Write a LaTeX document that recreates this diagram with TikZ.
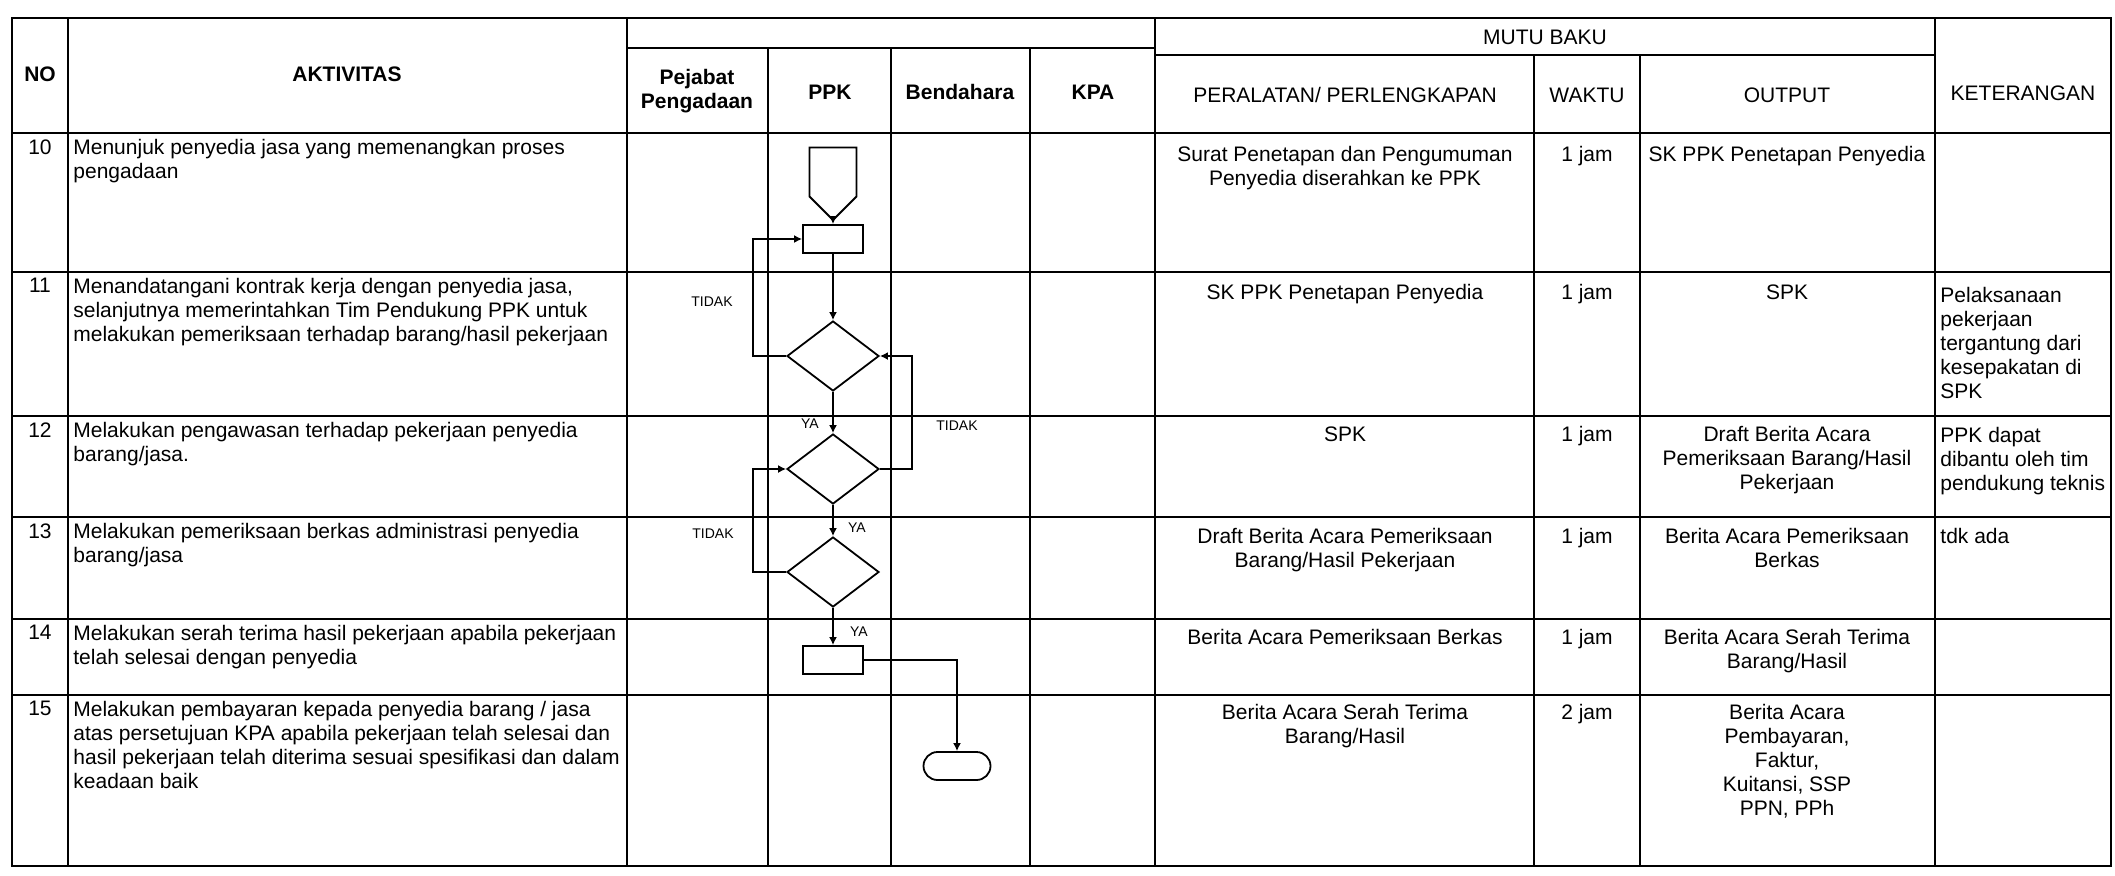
\documentclass[tikz,border=0pt]{standalone}
\usepackage{fontspec}
\setmainfont{Liberation Sans}
\usetikzlibrary{arrows.meta,positioning,shapes.geometric,shapes.symbols,shapes.misc}

\begin{document}
\begin{tikzpicture}[
  x=0.5pt,y=-0.5pt,
  every node/.style={font=\fontsize{10.5}{12}\selectfont,inner sep=0pt},
  grid/.style={line width=0.7pt},
  head/.style={align=center,font=\fontsize{10.5}{12}\selectfont\bfseries},
  headr/.style={align=center},
  txt/.style={anchor=north west,align=left},
  mid/.style={anchor=north,align=center},
  num/.style={anchor=north},
  lbl/.style={font=\fontsize{7}{8}\selectfont},
  proc/.style={draw,line width=0.9pt,minimum width=30pt,minimum height=14pt},
  dec/.style={draw,diamond,line width=0.9pt,minimum width=46pt,minimum height=35pt},
  offp/.style={draw,signal,signal to=south,signal from=nowhere,line width=0.9pt,minimum width=23.5pt,minimum height=24.5pt},
  term/.style={draw,rounded rectangle,line width=0.9pt,minimum width=33.5pt,minimum height=14pt},
  flow/.style={line width=0.8pt,-{Latex[length=4pt,width=4pt]}}
]
\useasboundingbox (0,0) rectangle (2115,875);

\draw[grid] (12,18) rectangle (2111,866);
\draw[grid] (12,133) -- (2111,133);
\draw[grid] (12,272) -- (2111,272);
\draw[grid] (12,416) -- (2111,416);
\draw[grid] (12,517) -- (2111,517);
\draw[grid] (12,619) -- (2111,619);
\draw[grid] (12,695) -- (2111,695);
\draw[grid] (68,18) -- (68,866);
\draw[grid] (627,18) -- (627,866);
\draw[grid] (1155,18) -- (1155,866);
\draw[grid] (1935,18) -- (1935,866);
\draw[grid] (627,48) -- (1155,48);
\draw[grid] (768,48) -- (768,866);
\draw[grid] (891,48) -- (891,866);
\draw[grid] (1030,48) -- (1030,866);
\draw[grid] (1155,55) -- (1935,55);
\draw[grid] (1534,55) -- (1534,866);
\draw[grid] (1640,55) -- (1640,866);

\node[head] (hNo) at (40,74) {NO};
\node[head] (hAkt) at (347,74) {AKTIVITAS};
\node[head] (hPjb) at (697,91) {Pejabat\\Pengadaan};
\node[head] (hPpk) at (830,92) {PPK};
\node[head] (hBdh) at (960,92) {Bendahara};
\node[head] (hKpa) at (1093,92) {KPA};
\node[headr] (hMutu) at (1545,37) {MUTU BAKU};
\node[headr] (hAlat) at (1345,95) {PERALATAN/ PERLENGKAPAN};
\node[headr] (hWkt) at (1587,95) {WAKTU};
\node[headr] (hOut) at (1787,95) {OUTPUT};
\node[headr] (hKet) at (2023,93) {KETERANGAN};

\node[num] (n10) at (40,139) {10};
\node[num] (n11) at (40,278) {11};
\node[num] (n12) at (40,422) {12};
\node[num] (n13) at (40,523) {13};
\node[num] (n14) at (40,625) {14};
\node[num] (n15) at (40,701) {15};

\node[txt] (akt10) at (73,139) {Menunjuk penyedia jasa yang memenangkan proses\\pengadaan};
\node[txt] (akt11) at (73,278) {Menandatangani kontrak kerja dengan penyedia jasa,\\selanjutnya memerintahkan Tim Pendukung PPK untuk\\melakukan pemeriksaan terhadap barang/hasil pekerjaan};
\node[txt] (akt12) at (73,422) {Melakukan pengawasan terhadap pekerjaan penyedia\\barang/jasa.};
\node[txt] (akt13) at (73,523) {Melakukan pemeriksaan berkas administrasi penyedia\\barang/jasa};
\node[txt] (akt14) at (73,625) {Melakukan serah terima hasil pekerjaan apabila pekerjaan\\telah selesai dengan penyedia};
\node[txt] (akt15) at (73,701) {Melakukan pembayaran kepada penyedia barang / jasa\\atas persetujuan KPA apabila pekerjaan telah selesai dan\\hasil pekerjaan telah diterima sesuai spesifikasi dan dalam\\keadaan baik};

\node[mid] (alat10) at (1345,146) {Surat Penetapan dan Pengumuman\\Penyedia diserahkan ke PPK};
\node[mid] (alat11) at (1345,284) {SK PPK Penetapan Penyedia};
\node[mid] (alat12) at (1345,426) {SPK};
\node[mid] (alat13) at (1345,528) {Draft Berita Acara Pemeriksaan\\Barang/Hasil Pekerjaan};
\node[mid] (alat14) at (1345,629) {Berita Acara Pemeriksaan Berkas};
\node[mid] (alat15) at (1345,704) {Berita Acara Serah Terima\\Barang/Hasil};

\node[mid] (wkt10) at (1587,146) {1 jam};
\node[mid] (wkt11) at (1587,284) {1 jam};
\node[mid] (wkt12) at (1587,426) {1 jam};
\node[mid] (wkt13) at (1587,528) {1 jam};
\node[mid] (wkt14) at (1587,629) {1 jam};
\node[mid] (wkt15) at (1587,704) {2 jam};

\node[mid] (out10) at (1787,146) {SK PPK Penetapan Penyedia};
\node[mid] (out11) at (1787,284) {SPK};
\node[mid] (out12) at (1787,426) {Draft Berita Acara\\Pemeriksaan Barang/Hasil\\Pekerjaan};
\node[mid] (out13) at (1787,528) {Berita Acara Pemeriksaan\\Berkas};
\node[mid] (out14) at (1787,629) {Berita Acara Serah Terima\\Barang/Hasil};
\node[mid] (out15) at (1787,704) {Berita Acara\\Pembayaran,\\Faktur,\\Kuitansi, SSP\\PPN, PPh};

\node[txt] (ket11) at (1940,287) {Pelaksanaan\\pekerjaan\\tergantung dari\\kesepakatan di\\SPK};
\node[txt] (ket12) at (1940,427) {PPK dapat\\dibantu oleh tim\\pendukung teknis};
\node[txt] (ket13) at (1940,528) {tdk ada};

\node[offp] (mulai) at (833,172) {};
\node[proc] (kontrak) at (833,239) {};
\node[dec] (cek1) at (833,356) {};
\node[dec] (cek2) at (833,469) {};
\node[dec] (cek3) at (833,572) {};
\node[proc] (serah) at (833,660) {};
\node[term] (bayar) at (957,766) {};

\draw[flow] (mulai) -- (kontrak);
\draw[flow] (kontrak) -- (cek1);
\draw[flow] (cek1) -- (cek2);
\draw[flow] (cek1.west) -- ++(-33,0) |- (kontrak.west);
\draw[flow] (cek2.east) -- ++(32,0) |- (cek1.east);
\draw[flow] (cek2) -- (cek3);
\draw[flow] (cek3.west) -- ++(-33,0) |- (cek2.west);
\draw[flow] (cek3) -- (serah);
\draw[flow] (serah.east) -| (bayar.north);

\node[lbl] (tdk1) at (712,302) {TIDAK};
\node[lbl] (ya1) at (810,424) {YA};
\node[lbl] (tdk2) at (957,426) {TIDAK};
\node[lbl] (ya2) at (857,528) {YA};
\node[lbl] (tdk3) at (713,534) {TIDAK};
\node[lbl] (ya3) at (859,632) {YA};
\end{tikzpicture}
\end{document}
